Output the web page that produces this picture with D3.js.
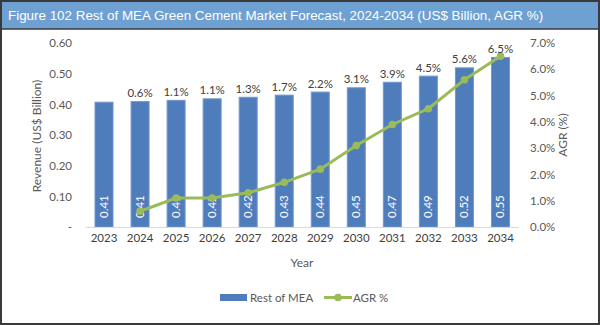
<!DOCTYPE html>
<html><head><meta charset="utf-8">
<script src="https://cdn.jsdelivr.net/npm/d3@7"></script>
<style>body{margin:0;background:#fff}svg{display:block}</style>
</head><body>
<script>
const years = ["2023","2024","2025","2026","2027","2028","2029","2030","2031","2032","2033","2034"];
const revenue = [0.407,0.409,0.413,0.418,0.423,0.430,0.440,0.454,0.472,0.492,0.519,0.553];
const revenueLabels = ["0.41","0.41","0.41","0.42","0.42","0.43","0.44","0.45","0.47","0.49","0.52","0.55"];
const agrYears = ["2024","2025","2026","2027","2028","2029","2030","2031","2032","2033","2034"];
const agr = [0.6,1.1,1.1,1.3,1.7,2.2,3.1,3.9,4.5,5.6,6.5];
const leftTicks = [0,0.1,0.2,0.3,0.4,0.5,0.6];
const rightTicks = [0,1,2,3,4,5,6,7];
const title = "Figure 102 Rest of MEA Green Cement Market Forecast, 2024-2034 (US$ Billion, AGR %)";

const W=600,H=325;
const svg=d3.select("body").append("svg").attr("width",W).attr("height",H);
const font="Lato, 'Open Sans', sans-serif";
svg.append("rect").attr("x",0).attr("y",0).attr("width",W).attr("height",H).attr("fill","#fff");
// title bar
svg.append("rect").attr("x",0).attr("y",0).attr("width",W).attr("height",29).attr("fill","#6fa0d2");
svg.append("text").attr("x",8).attr("y",19.5).attr("fill","#fff").attr("font-family","'Liberation Sans', Arial, sans-serif").attr("font-size",13.4).text(title);
// frame
svg.append("rect").attr("x",1).attr("y",1).attr("width",W-2).attr("height",H-2).attr("fill","none").attr("stroke","#3a3a3a").attr("stroke-width",2);
svg.append("line").attr("x1",0).attr("x2",W).attr("y1",29).attr("y2",29).attr("stroke","#3a3a3a").attr("stroke-width",1.5);

const x=d3.scaleBand().domain(years).range([86,518.5]).paddingInner(0.5).paddingOuter(0.25);
const yL=d3.scaleLinear().domain([0,0.6]).range([227,43]);
const yR=d3.scaleLinear().domain([0,7]).range([227,43]);

// left axis
const axL=svg.append("g").attr("transform","translate(78,0)").call(d3.axisLeft(yL).tickValues(leftTicks).tickSize(0).tickPadding(0).tickFormat(d=>d===0?"-":d3.format(".2f")(d)));
axL.select(".domain").remove();
axL.selectAll("text").attr("font-family",font).attr("font-size",11.5).attr("fill","#595959").attr("dx",-6);
// right axis
const axR=svg.append("g").attr("transform","translate(530,0)").call(d3.axisRight(yR).tickValues(rightTicks).tickSize(0).tickPadding(0).tickFormat(d=>d3.format(".1f")(d)+"%"));
axR.select(".domain").remove();
axR.selectAll("text").attr("font-family",font).attr("font-size",11.5).attr("fill","#595959");

// bars
svg.selectAll("rect.bar").data(years).enter().append("rect").attr("class","bar")
 .attr("x",d=>x(d)).attr("width",x.bandwidth()).attr("y",(d,i)=>yL(revenue[i])).attr("height",(d,i)=>yL(0)-yL(revenue[i]))
 .attr("fill","#4f7dbc").attr("stroke","#7398cf").attr("stroke-width",1);
// baseline
svg.append("line").attr("x1",86).attr("x2",518.5).attr("y1",227.5).attr("y2",227.5).attr("stroke","#d9d9d9").attr("stroke-width",1.2);
// x axis
const axX=svg.append("g").attr("transform","translate(0,227)").call(d3.axisBottom(x).tickSize(0).tickPadding(0));
axX.select(".domain").remove();
axX.selectAll("text").attr("font-family",font).attr("font-size",11.5).attr("fill","#404040").attr("dy",15);

// bar value labels
svg.selectAll("text.val").data(years).enter().append("text").attr("class","val")
 .attr("transform",d=>`translate(${x(d)+x.bandwidth()/2+4},218) rotate(-90)`)
 .attr("font-family",font).attr("font-size",11.5).attr("fill","#fff").text((d,i)=>revenueLabels[i]);

// AGR line
const line=d3.line().x((d,i)=>x(agrYears[i])+x.bandwidth()/2).y(d=>yR(d));
svg.append("path").datum(agr).attr("d",line).attr("fill","none").attr("stroke","#9bbb59").attr("stroke-width",3);
svg.selectAll("circle.pt").data(agr).enter().append("circle").attr("class","pt")
 .attr("cx",(d,i)=>x(agrYears[i])+x.bandwidth()/2).attr("cy",d=>yR(d)).attr("r",3.8).attr("fill","#9bbb59");
// AGR labels above bars
svg.selectAll("text.agr").data(agr).enter().append("text").attr("class","agr")
 .attr("x",(d,i)=>x(agrYears[i])+x.bandwidth()/2).attr("y",(d,i)=>yL(revenue[i+1])-4.5)
 .attr("text-anchor","middle").attr("font-family",font).attr("font-size",11.5).attr("fill","#404040")
 .text(d=>d.toFixed(1)+"%");

// axis titles
svg.append("text").attr("transform","translate(41,136) rotate(-90)").attr("text-anchor","middle").attr("font-family",font).attr("font-size",12).attr("fill","#595959").text("Revenue (US$ Billion)");
svg.append("text").attr("transform","translate(567,135) rotate(-90)").attr("text-anchor","middle").attr("font-family",font).attr("font-size",12).attr("fill","#595959").text("AGR (%)");
svg.append("text").attr("x",302).attr("y",267).attr("text-anchor","middle").attr("font-family",font).attr("font-size",12).attr("fill","#595959").text("Year");

// legend
svg.append("rect").attr("x",220).attr("y",294).attr("width",27).attr("height",7).attr("fill","#4f7dbc");
svg.append("text").attr("x",250).attr("y",301.5).attr("font-family",font).attr("font-size",11.5).attr("fill","#595959").text("Rest of MEA");
svg.append("line").attr("x1",324).attr("x2",352).attr("y1",297.5).attr("y2",297.5).attr("stroke","#9bbb59").attr("stroke-width",3);
svg.append("circle").attr("cx",338).attr("cy",297.5).attr("r",3.8).attr("fill","#9bbb59");
svg.append("text").attr("x",353).attr("y",301.5).attr("font-family",font).attr("font-size",11.5).attr("fill","#595959").text("AGR %");
</script>
</body></html>
